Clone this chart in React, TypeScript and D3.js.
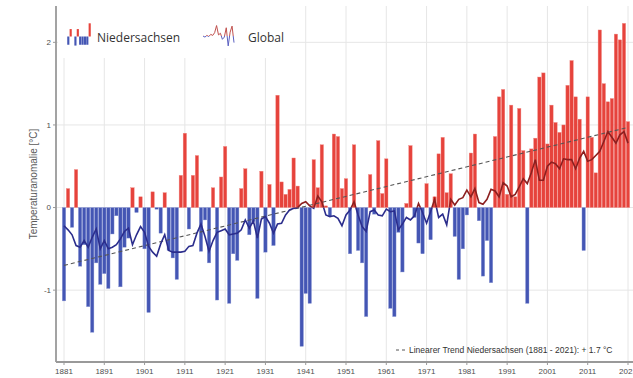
import React from 'react';
import * as d3 from 'd3';

// Temperaturanomalie Niedersachsen und global, 1881 - 2021
const firstYear = 1881;
const lastYear = 2021;

const niedersachsen = [
  -1.13, 0.23, -0.24, 0.46, -0.71, -0.45, -1.20, -1.51, -0.67, -0.93, // 1881-1890
  -0.80, -0.98, -0.32, -0.10, -0.96, -0.48, -0.37, 0.24, -0.06, 0.13, // 1891-1900
  -0.50, -1.27, 0.19, -0.02, -0.31, 0.18, -0.52, -0.61, -0.87, 0.39, // 1901-1910
  0.90, -0.26, 0.39, 0.63, -0.53, -0.15, -0.67, 0.24, -1.12, 0.37, // 1911-1920
  0.74, -1.16, -0.56, -0.64, 0.23, 0.47, -0.33, -0.17, -1.10, 0.44, // 1921-1930
  -0.54, 0.28, -0.46, 1.36, 0.31, 0.16, 0.22, 0.60, 0.26, -1.68, // 1931-1940
  -1.04, -1.16, 0.58, 0.24, 0.76, 0.02, -0.11, 0.89, 0.86, 0.23, // 1941-1950
  0.35, -0.56, 0.76, -0.52, -0.67, -1.32, 0.40, -0.08, 0.81, 0.17, // 1951-1960
  0.59, -1.22, -1.32, -0.30, -0.78, 0.05, 0.75, -0.12, -0.43, -0.56, // 1961-1970
  0.29, -0.39, 0.13, 0.65, 0.85, 0.18, 0.41, -0.35, -0.87, -0.50, // 1971-1980
  -0.09, 0.66, 0.89, -0.16, -0.83, -0.40, -0.91, 0.86, 1.34, 1.43, // 1981-1990
  0.16, 1.24, 0.13, 1.20, 0.69, -1.16, 0.71, 0.84, 1.58, 1.63, // 1991-2000
  0.77, 1.24, 1.03, 0.91, 1.00, 1.48, 1.78, 1.34, 1.07, -0.52, // 2001-2010
  1.34, 0.85, 0.42, 2.15, 1.50, 1.28, 1.32, 2.10, 2.03, 2.23, // 2011-2020
  1.04, // 2021
];

const globalValues = [
  -0.22, -0.27, -0.33, -0.46, -0.48, -0.40, -0.48, -0.36, -0.26, -0.50,
  -0.40, -0.50, -0.48, -0.45, -0.38, -0.29, -0.25, -0.45, -0.33, -0.23,
  -0.30, -0.47, -0.54, -0.59, -0.44, -0.33, -0.52, -0.54, -0.54, -0.54,
  -0.53, -0.47, -0.46, -0.31, -0.20, -0.35, -0.53, -0.40, -0.30, -0.28,
  -0.26, -0.33, -0.32, -0.31, -0.27, -0.15, -0.25, -0.16, -0.37, -0.14,
  -0.11, -0.19, -0.31, -0.20, -0.19, -0.09, -0.03, -0.01, 0.00, 0.05,
  0.07, 0.02, -0.01, 0.14, 0.07, -0.09, -0.11, -0.10, -0.13, -0.22,
  -0.09, -0.03, 0.07, -0.09, -0.23, -0.29, -0.05, -0.03, -0.09, -0.10,
  -0.02, -0.05, -0.04, -0.27, -0.20, -0.12, -0.15, -0.10, 0.05, -0.06,
  -0.19, -0.05, 0.10, -0.12, -0.08, -0.21, 0.10, 0.03, 0.10, 0.12,
  0.21, 0.13, 0.23, 0.06, 0.04, 0.10, 0.22, 0.20, 0.13, 0.30,
  0.26, 0.13, 0.16, 0.25, 0.35, 0.29, 0.42, 0.58, 0.33, 0.33,
  0.50, 0.55, 0.53, 0.47, 0.59, 0.58, 0.58, 0.47, 0.60, 0.68,
  0.56, 0.58, 0.63, 0.68, 0.80, 0.92, 0.85, 0.78, 0.88, 0.92,
  0.78,
];

// linearer Trend Niedersachsen (Endpunkte)
const trendYears = [1881, 2021];
const trendValues = [-0.7, 0.97];

const yTicks = [-1, 0, 1, 2];
const xTicks = d3.range(1881, 2022, 10);

// kleine Symbole in der Legende
const legendBars = [-0.5, 0.45, 0, -0.55, 0.45, -0.5, -0.5, -0.5, -0.5, 0.8];
const legendLine = [0, -0.1, 0.05, -0.05, 0.15, 0.05, 0.3, 0.95, 0.1, 0.25, -0.3, -0.1, 0.75, -0.9, 0.35, 0.9, -0.6];

const RED = '#e6433c';
const BLUE = '#4456b4';
const LINE_BLUE = '#2b2d8c';
const LINE_RED = '#8c1f1f';

export default function App() {
  const W = 633;
  const H = 378;
  const left = 56;
  const top = 6;
  const bottom = 362;

  const years = d3.range(firstYear, lastYear + 1);
  const x = d3.scaleLinear().domain([firstYear, lastYear]).range([64, 628]);
  const y = d3.scaleLinear().domain([-1.87, 2.44]).range([bottom, top]);
  const barW = 3.4;

  const line = d3.line<number>()
    .x((d, i) => x(years[i]))
    .y(d => y(d));

  const trend = d3.line<number>()
    .x((d, i) => x(trendYears[i]))
    .y(d => y(d));

  // legend icons
  const lbx = d3.scaleBand<number>().domain(d3.range(legendBars.length)).range([67, 91]).padding(0.1);
  const lby = d3.scaleLinear().domain([-1, 1]).range([53, 20]);
  const llx = d3.scaleLinear().domain([0, legendLine.length - 1]).range([203, 234]);
  const lly = d3.scaleLinear().domain([-1, 1]).range([47, 25]);
  const legendPath = d3.line<number>().x((d, i) => llx(i)).y(d => lly(d));

  const axisFont = 'Liberation Sans, Arial, sans-serif';

  return (
    <svg width={W} height={H} style={{ position: 'absolute', left: 0, top: 0, background: 'white', fontFamily: axisFont }}>
      <defs>
        <clipPath id="above">
          <rect x={0} y={0} width={W} height={y(0)} />
        </clipPath>
        <clipPath id="below">
          <rect x={0} y={y(0)} width={W} height={H - y(0)} />
        </clipPath>
        <clipPath id="legAbove">
          <rect x={190} y={0} width={60} height={lly(0)} />
        </clipPath>
        <clipPath id="legBelow">
          <rect x={190} y={lly(0)} width={60} height={40} />
        </clipPath>
      </defs>

      {/* grid */}
      {xTicks.map(t => (
        <line key={'gx' + t} x1={x(t)} x2={x(t)} y1={top} y2={bottom} stroke="#e6e6e6" strokeWidth={1} />
      ))}
      {yTicks.map(t => (
        <line key={'gy' + t} x1={left} x2={W} y1={y(t)} y2={y(t)} stroke="#e6e6e6" strokeWidth={1} />
      ))}

      {/* bars */}
      {niedersachsen.map((v, i) => (
        <rect
          key={'b' + i}
          x={x(years[i]) - barW / 2}
          y={Math.min(y(v), y(0))}
          width={barW}
          height={Math.abs(y(v) - y(0))}
          fill={v >= 0 ? RED : BLUE}
          stroke={v >= 0 ? '#f28a85' : '#8b97d4'}
          strokeWidth={0.4}
        />
      ))}

      {/* trend */}
      <path d={trend(trendValues) || ''} fill="none" stroke="#555" strokeWidth={1.1} strokeDasharray="4,3" />

      {/* global line */}
      <path d={line(globalValues) || ''} fill="none" stroke={LINE_BLUE} strokeWidth={1.6} clipPath="url(#below)" />
      <path d={line(globalValues) || ''} fill="none" stroke={LINE_RED} strokeWidth={1.6} clipPath="url(#above)" />

      {/* axes */}
      <line x1={left} x2={left} y1={top} y2={bottom} stroke="#999" strokeWidth={1.8} />
      <line x1={left} x2={W} y1={bottom} y2={bottom} stroke="#999" strokeWidth={1.8} />
      {yTicks.map(t => (
        <g key={'yt' + t}>
          <line x1={left - 3} x2={left} y1={y(t)} y2={y(t)} stroke="#999" />
          <text x={left - 5} y={y(t)} dy="0.35em" textAnchor="end" fontSize={8} fill="#4d4d4d">{t}</text>
        </g>
      ))}
      {xTicks.map(t => (
        <g key={'xt' + t}>
          <line x1={x(t)} x2={x(t)} y1={bottom} y2={bottom + 3} stroke="#999" />
          <text x={x(t)} y={bottom + 12} textAnchor="middle" fontSize={8} fill="#4d4d4d">{t}</text>
        </g>
      ))}

      <text
        transform={`translate(33,${(top + bottom) / 2}) rotate(-90)`}
        textAnchor="middle"
        fontSize={10}
        fill="#595959"
        dy="0.35em"
      >
        Temperaturanomalie [°C]
      </text>

      {/* legend */}
      <rect x={left + 2} y={top} width={232} height={52} fill="white" />
      {legendBars.map((v, i) => (
        <rect
          key={'lb' + i}
          x={lbx(i)}
          y={Math.min(lby(v), lby(0))}
          width={lbx.bandwidth()}
          height={Math.abs(lby(v) - lby(0))}
          fill={v >= 0 ? RED : BLUE}
        />
      ))}
      <text x={97} y={42} fontSize={12} fill="#333" fontFamily="Open Sans, sans-serif">Niedersachsen</text>
      <path d={legendPath(legendLine) || ''} fill="none" stroke="#5a5fc0" strokeWidth={1} clipPath="url(#legBelow)" />
      <path d={legendPath(legendLine) || ''} fill="none" stroke="#c0504d" strokeWidth={1} clipPath="url(#legAbove)" />
      <text x={248} y={42} fontSize={12} fill="#333" fontFamily="Open Sans, sans-serif">Global</text>

      {/* trend legend */}
      <line x1={396} x2={406} y1={350} y2={350} stroke="#555" strokeWidth={1} strokeDasharray="3,3" />
      <text x={409} y={353} fontSize={8.5} fill="#333">Linearer Trend Niedersachsen (1881 - 2021): + 1.7 °C</text>
    </svg>
  );
}
